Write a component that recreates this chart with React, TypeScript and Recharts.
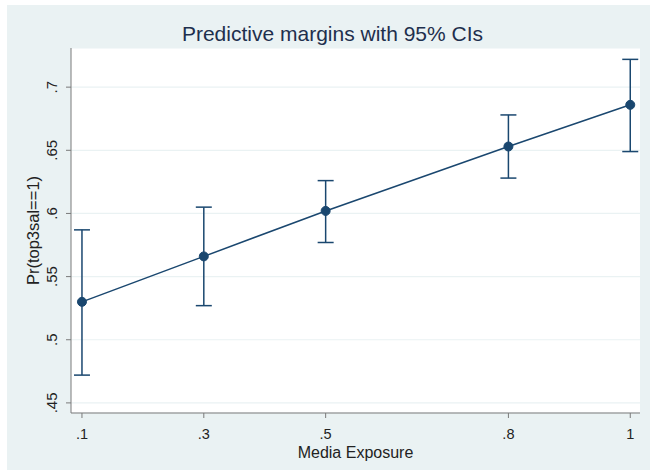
import React from 'react'
import { ComposedChart, Line, XAxis, YAxis, CartesianGrid, ErrorBar } from 'recharts'

const exposure = [0.1, 0.3, 0.5, 0.8, 1]
const margins = [0.53, 0.566, 0.602, 0.653, 0.686]
const ciLow = [0.472, 0.527, 0.577, 0.628, 0.649]
const ciHigh = [0.587, 0.605, 0.626, 0.678, 0.722]
const xTicks = [0.1, 0.3, 0.5, 0.8, 1]
const yTicks = [0.45, 0.5, 0.55, 0.6, 0.65, 0.7]

const data = exposure.map((x, i) => ({
  x,
  y: margins[i],
  err: [margins[i] - ciLow[i], ciHigh[i] - margins[i]],
}))

const NAVY = '#1a476f'
const BG = '#eaf2f3'
const AXIS = '#7a7a7a'
const FONT = '"Liberation Sans", Arial, sans-serif'

const fmt = (v: number) => (v === 1 ? '1' : String(v).replace(/^0/, ''))

const YTick = ({ x, y, payload }: any) => (
  <text x={x - 7} y={y} transform={`rotate(-90 ${x - 7} ${y})`} textAnchor="middle"
    fontSize={15} fill="#222" fontFamily={FONT}>
    {fmt(payload.value)}
  </text>
)

const XTick = ({ x, y, payload }: any) => (
  <text x={x} y={y + 19} textAnchor="middle" fontSize={14.5} fill="#222" fontFamily={FONT}>
    {fmt(payload.value)}
  </text>
)

export default function App() {
  return (
    <div style={{ position: 'absolute', top: 0, left: 0, width: 650, height: 470, background: '#fff' }}>
      <div style={{ position: 'absolute', left: 7, top: 5, width: 643, height: 465, background: BG }}>
        <div style={{
          position: 'absolute', top: 17, left: 4, width: 643, textAlign: 'center',
          fontFamily: FONT, fontSize: 21, color: '#1e2f4d', whiteSpace: 'nowrap',
        }}>
          Predictive margins with 95% CIs
        </div>
        <ComposedChart width={643} height={465} data={data}
          margin={{ top: 43, right: 10, bottom: 0, left: 0 }}>
          <CartesianGrid vertical={false} stroke={BG} strokeWidth={1.2} fill="#fff" />
          <XAxis dataKey="x" type="number" domain={[0.082, 1.016]} ticks={xTicks}
            height={57} stroke={AXIS} tickSize={5} tick={<XTick />} allowDataOverflow
            label={({ viewBox }: any) => (
              <text x={viewBox.x + viewBox.width / 2} y={viewBox.y + 45} textAnchor="middle"
                fontSize={16} fill="#222" fontFamily={FONT}>Media Exposure</text>
            )} />
          <YAxis type="number" domain={[0.442, 0.731]} ticks={yTicks} width={64}
            stroke={AXIS} tickSize={5} tick={<YTick />} allowDataOverflow
            label={({ viewBox }: any) => {
              const cx = 32
              const cy = viewBox.y + viewBox.height / 2
              return (
                <text x={cx} y={cy} transform={`rotate(-90 ${cx} ${cy})`} textAnchor="middle"
                  fontSize={16.5} fill="#222" fontFamily={FONT}>Pr(top3sal==1)</text>
              )
            }} />
          <Line dataKey="y" type="linear" stroke={NAVY} strokeWidth={1.5} isAnimationActive={false}
            dot={{ r: 4.5, fill: NAVY, stroke: NAVY, strokeWidth: 1 }} activeDot={false}>
            <ErrorBar dataKey="err" direction="y" width={8} stroke={NAVY} strokeWidth={1.5} />
          </Line>
        </ComposedChart>
      </div>
    </div>
  )
}
